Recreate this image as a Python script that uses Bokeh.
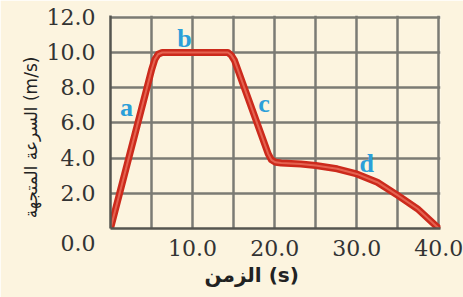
from bokeh.plotting import figure
from bokeh.models import FixedTicker, Range1d, LinearAxis, ColumnDataSource
from bokeh.core.properties import value
from bokeh.embed import file_html
from bokeh.resources import INLINE

# ---- data ----
time_s = [0, 5.0, 5.4, 5.8, 6.3, 14.3, 14.7, 15.1, 19.2, 19.6, 20.1, 20.8,
          23.2, 25.0, 27.6, 30.0, 32.5, 35.0, 37.4, 40.0]
speed = [0, 9.0, 9.6, 9.9, 10.0, 10.0, 9.85, 9.55, 4.25, 3.9, 3.76, 3.72,
         3.66, 3.58, 3.39, 3.1, 2.63, 1.88, 1.12, 0]

seg_names = ["a", "b", "c", "d"]
seg_x = [1.95, 9.0, 18.7, 31.2]
seg_y = [6.9, 10.8, 7.1, 3.7]

x_ticks = [10, 20, 30, 40]
x_tick_labels = {10: "10.0", 20: "20.0", 30: "30.0", 40: "40.0"}
y_ticks = [0, 2, 4, 6, 8, 10, 12]
y_tick_labels = {0: "\u00a0\n0.0", 2: "2.0", 4: "4.0", 6: "6.0", 8: "8.0",
                 10: "10.0", 12: "12.0"}
x_grid = [0, 5, 10, 15, 20, 25, 30, 35, 40]
y_grid = [0, 2, 4, 6, 8, 10, 12]

x_title = "الزمن (s)"
y_title = "السرعة المتجهة (m/s)"
x_title_pos = 17.2
y_title_pos = 5.17

BG = "#FCF4DF"

p = figure(frame_width=330, frame_height=213,
           x_range=Range1d(0, 40.2), y_range=Range1d(0, 12.1),
           min_border_left=110, min_border_right=23, min_border_top=15,
           min_border_bottom=69,
           output_backend="svg", toolbar_location=None)
p.background_fill_color = BG
p.border_fill_color = BG
p.outline_line_color = None

# grid
p.xgrid.ticker = FixedTicker(ticks=x_grid)
p.ygrid.ticker = FixedTicker(ticks=y_grid)
for g in (p.xgrid, p.ygrid):
    g.grid_line_color = "#7b7b74"
    g.grid_line_width = 2.5

# axes
p.xaxis.ticker = FixedTicker(ticks=x_ticks)
p.yaxis.ticker = FixedTicker(ticks=y_ticks)
p.xaxis.major_label_overrides = x_tick_labels
p.yaxis.major_label_overrides = y_tick_labels
for ax in (p.xaxis, p.yaxis):
    ax.axis_line_color = "#55554f"
    ax.axis_line_width = 2.5
    ax.major_tick_line_color = None
    ax.minor_tick_line_color = None
    ax.major_tick_out = 0
    ax.minor_tick_out = 0
    ax.major_label_text_font = "DejaVu Serif"
    ax.major_label_text_font_size = "22px"
    ax.major_label_text_color = "#333333"
p.xaxis.major_label_standoff = 11
p.yaxis.major_label_standoff = 15

# axis titles as extra tick-label-only axes
def title_axis(tick, text, size, style):
    a = LinearAxis(ticker=FixedTicker(ticks=[tick]),
                   major_label_overrides={tick: text})
    a.axis_line_color = None
    a.major_tick_line_color = None
    a.minor_tick_line_color = None
    a.major_tick_out = 0
    a.minor_tick_out = 0
    a.major_label_text_font = "DejaVu Sans"
    a.major_label_text_font_size = size
    a.major_label_text_font_style = style
    a.major_label_text_color = "#222222"
    return a

xt = title_axis(x_title_pos, x_title, "20px", "bold")
xt.major_label_standoff = 4
p.add_layout(xt, "below")

yt = title_axis(y_title_pos, y_title, "17px", "normal")
yt.major_label_orientation = "parallel"
yt.major_label_standoff = 2
p.add_layout(yt, "left")

# curve
src = ColumnDataSource(dict(t=time_s, v=speed))
p.line("t", "v", source=src, line_color="#cc2a1c", line_width=7,
       line_join="round", line_cap="round")
p.line("t", "v", source=src, line_color="#f07a66", line_width=2,
       line_alpha=0.7, line_join="round", line_cap="round")

# segment letters
p.text(x=seg_x, y=seg_y, text=seg_names, text_color="#2b9fd9",
       text_font=value("Liberation Sans Narrow"), text_font_style="bold",
       text_font_size="26px", text_align="center", text_baseline="middle")

html = file_html(p, INLINE)
html = html.replace("<body>", '<body style="background-color:%s;">' % BG, 1)
open("out.html", "w").write(html)
